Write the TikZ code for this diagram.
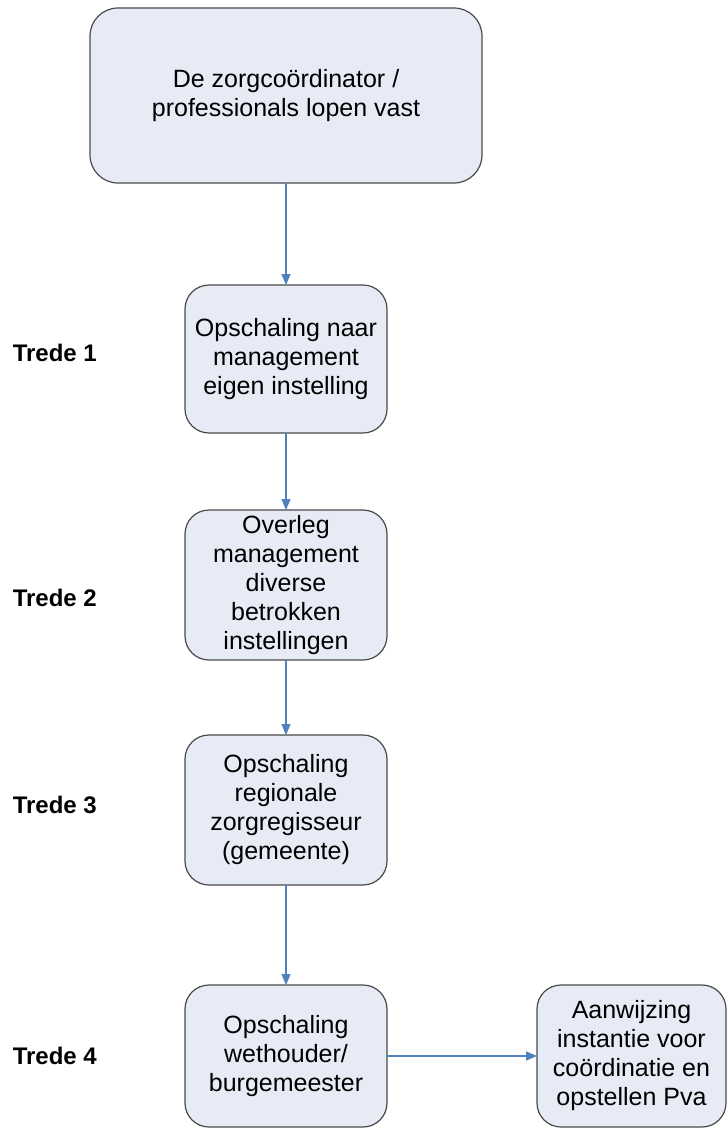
\documentclass[tikz,border=0pt]{standalone}
\usepackage{fontspec}
\setmainfont{Liberation Sans}
\usetikzlibrary{positioning, arrows.meta}
\definecolor{boxfill}{HTML}{E6EBF5}
\definecolor{boxline}{HTML}{4A4A4A}
\definecolor{arrowblue}{HTML}{4F81BD}

\begin{document}
\begin{tikzpicture}[x=1pt,y=-1pt,
    stap/.style={draw=boxline, fill=boxfill, line width=1.2pt, rounded corners=24pt,
      align=center, minimum width=202pt, minimum height=150pt, inner sep=2pt,
      outer sep=0pt, font=\fontsize{25}{29}\selectfont},
    trede/.style={inner sep=0pt, font=\fontsize{24}{28}\selectfont\bfseries},
    pijl/.style={draw=arrowblue, line width=1.2pt, -{Triangle[length=11pt,width=9pt]}}]
  \useasboundingbox (0,0) rectangle (727,1130);

  \node [stap, minimum width=392pt, minimum height=175pt, rounded corners=28pt] (start) at (286,95.5)
    {De zorgcoördinator /\\ professionals lopen vast};
  \node [stap, minimum height=148pt, below=102pt of start] (stap1)
    {Opschaling naar\\ management\\ eigen instelling};
  \node [stap, below=77pt of stap1] (stap2)
    {Overleg\\ management\\ diverse\\ betrokken\\ instellingen};
  \node [stap, below=75pt of stap2] (stap3)
    {Opschaling\\ regionale\\ zorgregisseur\\ (gemeente)};
  \node [stap, minimum height=142pt, below=100pt of stap3] (stap4)
    {Opschaling\\ wethouder/\\ burgemeester};
  \node [stap, minimum width=189pt, minimum height=142pt, right=150pt of stap4] (eind)
    {Aanwijzing\\ instantie voor\\ coördinatie en\\ opstellen Pva};

  \node [trede, left=88pt of stap1, yshift=6pt] (trede1) {Trede 1};
  \node [trede, left=88pt of stap2, yshift=-13pt] (trede2) {Trede 2};
  \node [trede, left=88pt of stap3, yshift=5pt] (trede3) {Trede 3};
  \node [trede, left=88pt of stap4] (trede4) {Trede 4};

  \draw [pijl] (start) -- (stap1);
  \draw [pijl] (stap1) -- (stap2);
  \draw [pijl] (stap2) -- (stap3);
  \draw [pijl] (stap3) -- (stap4);
  \draw [pijl] (stap4) -- (eind);
\end{tikzpicture}
\end{document}
